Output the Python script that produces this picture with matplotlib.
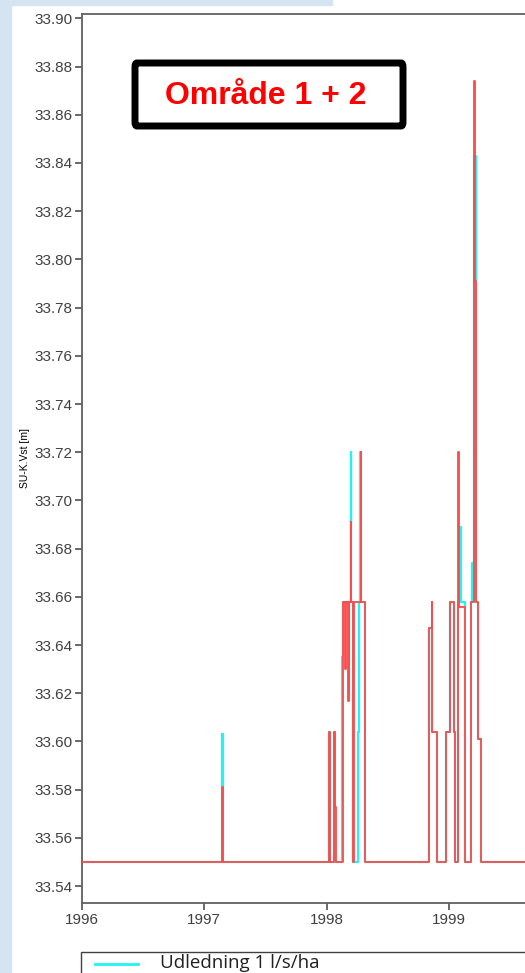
import numpy as np
import matplotlib
matplotlib.use('Agg')
import matplotlib.pyplot as plt
from matplotlib.patches import Rectangle, FancyBboxPatch
from matplotlib.lines import Line2D

# tidsserie, steps-post (år, vandstand m)
cyan_t = [1996.0,
          1997.148, 1997.156,
          1998.018, 1998.028, 1998.062, 1998.070,
          1998.130, 1998.136, 1998.180, 1998.186, 1998.198, 1998.204, 1998.218,
          1998.254, 1998.262, 1998.278, 1998.284, 1998.314,
          1998.837, 1998.864, 1998.905,
          1998.976, 1999.009, 1999.046, 1999.050,
          1999.074, 1999.094, 1999.100, 1999.137,
          1999.186, 1999.190, 1999.196, 1999.208, 1999.222, 1999.240, 1999.260,
          2000.0]
cyan_v = [33.55,
          33.603, 33.55,
          33.604, 33.55, 33.604, 33.55,
          33.635, 33.658, 33.620, 33.658, 33.720, 33.658, 33.55,
          33.604, 33.658, 33.720, 33.658, 33.55,
          33.647, 33.604, 33.55,
          33.604, 33.658, 33.604, 33.55,
          33.658, 33.689, 33.658, 33.55,
          33.658, 33.674, 33.658, 33.843, 33.658, 33.601, 33.55,
          33.55]

red_t = [1996.0,
         1997.148, 1997.156,
         1998.020, 1998.026, 1998.060, 1998.066, 1998.077,
         1998.132, 1998.150, 1998.156, 1998.176, 1998.182, 1998.198, 1998.204, 1998.218,
         1998.224, 1998.280, 1998.286, 1998.314,
         1998.837, 1998.862, 1998.866, 1998.905,
         1998.976, 1999.009, 1999.044, 1999.050,
         1999.074, 1999.080, 1999.137,
         1999.186, 1999.208, 1999.212, 1999.218, 1999.226, 1999.240, 1999.260,
         2000.0]
red_v = [33.55,
         33.581, 33.55,
         33.604, 33.55, 33.604, 33.573, 33.55,
         33.658, 33.630, 33.658, 33.617, 33.658, 33.691, 33.658, 33.55,
         33.658, 33.720, 33.658, 33.55,
         33.647, 33.658, 33.604, 33.55,
         33.604, 33.658, 33.604, 33.55,
         33.720, 33.656, 33.55,
         33.658, 33.874, 33.820, 33.791, 33.658, 33.601, 33.55,
         33.55]

yticks = [33.54, 33.56, 33.58, 33.60, 33.62, 33.64, 33.66, 33.68, 33.70,
          33.72, 33.74, 33.76, 33.78, 33.80, 33.82, 33.84, 33.86, 33.88, 33.90]
xticks = [1996, 1997, 1998, 1999]

W, H = 525, 973
fig = plt.figure(figsize=(W / 100, H / 100), dpi=100)
fig.patch.set_facecolor('white')

# lyseblå slide-baggrund i venstre side og øverst
fig.patches.append(Rectangle((0, 0), 11 / W, 1, transform=fig.transFigure,
                             color='#d4e4f0', zorder=0))
fig.patches.append(Rectangle((0, 1 - 5 / H), 332 / W, 5 / H, transform=fig.transFigure,
                             color='#d4e4f0', zorder=0))

ax = fig.add_axes([82 / W, 1 - 903 / H, 489 / W, 889 / H])
ax.step(cyan_t, cyan_v, where='post', color='#22f4f4', lw=1.6, zorder=2)
ax.step(red_t, red_v, where='post', color='#ff4a4a', lw=1.3, zorder=3)

ax.set_xlim(1996, 2000)
ax.set_ylim(33.533, 33.9018)
ax.set_yticks(yticks)
ax.set_yticklabels(['%.2f' % v for v in yticks])
ax.set_xticks(xticks)
ax.tick_params(direction='out', length=5, width=1.2, color='#505050',
               labelsize=11, labelcolor='#404040', pad=2)
for s in ['left', 'top', 'bottom']:
    ax.spines[s].set_color('#606060')
    ax.spines[s].set_linewidth(1.3)
ax.spines['right'].set_visible(False)
for lab in ax.get_xticklabels() + ax.get_yticklabels():
    lab.set_family('Liberation Sans')
ax.set_ylabel('SU-K.Vst [m]', fontsize=7.5, family='Liberation Sans', labelpad=3)

# tekstboks
fig.patches.append(FancyBboxPatch((135 / W, 1 - 126 / H), 268 / W, 63 / H,
                                  boxstyle='round,pad=0,rounding_size=0.004',
                                  transform=fig.transFigure, facecolor='white',
                                  edgecolor='black', lw=5, zorder=5))
fig.text(266 / W, 1 - 96 / H, 'Område 1 + 2', color='#ff0000', fontsize=23,
         fontweight='bold', family='Liberation Sans', ha='center', va='center', zorder=6)

# forklaring (beskåret i bunden)
fig.patches.append(Rectangle((81 / W, -0.05), 0.9, 0.05 + (973 - 952) / H,
                             transform=fig.transFigure, facecolor='white',
                             edgecolor='#404040', lw=1.0, zorder=5))
fig.lines.append(Line2D([95 / W, 138 / W], [1 - 964 / H, 1 - 964 / H],
                        transform=fig.transFigure, color='#22f4f4', lw=2, zorder=6))
fig.text(160 / W, 1 - 968 / H, 'Udledning 1 l/s/ha', fontsize=13.5, family='Open Sans',
         color='#202020', ha='left', va='baseline', zorder=6)

fig.savefig('out.png', dpi=100)
